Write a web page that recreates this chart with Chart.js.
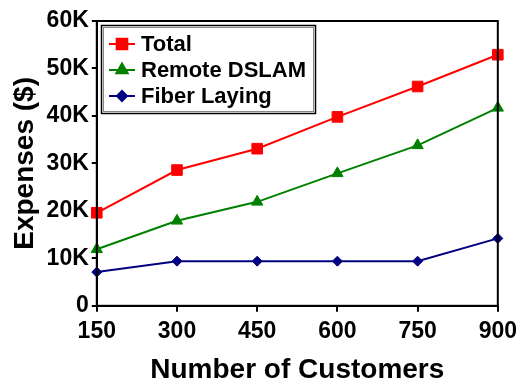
<!DOCTYPE html>
<html>
<head>
<meta charset="utf-8">
<script src="https://cdn.jsdelivr.net/npm/chart.js@4"></script>
<style>
  body { margin: 0; background: #fff; }
  canvas { display: block; }
</style>
</head>
<body>
<canvas id="grafico" width="520" height="390"></canvas>
<script>
const clientes = ['150', '300', '450', '600', '750', '900'];
const total = [19600, 28600, 33100, 39800, 46200, 52900];
const remoteDslam = [11900, 17900, 21900, 27900, 33800, 41700];
const fiberLaying = [7100, 9400, 9400, 9400, 9400, 14200];
const yTicks = [0, 10000, 20000, 30000, 40000, 50000, 60000];

const fuente = "'Liberation Sans', Arial, sans-serif";

// marco alrededor del area del grafico
const marco = {
    id: 'marco',
    afterDraw(chart) {
        const a = chart.chartArea;
        const ctx = chart.ctx;
        ctx.save();
        ctx.strokeStyle = '#000';
        ctx.lineWidth = 2;
        ctx.strokeRect(a.left, a.top, a.right - a.left, a.bottom - a.top);
        ctx.restore();
    }
};

// leyenda dibujada a mano, dentro del area
const leyenda = {
    id: 'leyenda',
    afterDraw(chart) {
        const ctx = chart.ctx;
        const x = 101, y = 25, w = 214, h = 88;
        ctx.save();
        ctx.fillStyle = '#fff';
        ctx.fillRect(x, y, w, h);
        ctx.strokeStyle = '#000';
        ctx.lineWidth = 1.5;
        ctx.strokeRect(x + 0.5, y + 0.5, w, h);
        ctx.strokeStyle = '#888';
        ctx.lineWidth = 1;
        ctx.strokeRect(x + 2.5, y + 2.5, w - 4, h - 4);
        ctx.font = 'bold 22px ' + fuente;
        ctx.textBaseline = 'middle';
        chart.data.datasets.forEach((ds, i) => {
            const cy = 44 + i * 26;
            ctx.strokeStyle = ds.borderColor;
            ctx.lineWidth = 2;
            ctx.beginPath();
            ctx.moveTo(109, cy);
            ctx.lineTo(135, cy);
            ctx.stroke();
            Chart.helpers.drawPoint(ctx, {
                pointStyle: ds.pointStyle,
                radius: ds.pointRadius,
                borderWidth: 1
            }, 122, cy);
            ctx.fillStyle = ds.backgroundColor;
            ctx.strokeStyle = ds.borderColor;
            ctx.fill();
            ctx.fillStyle = '#000';
            ctx.fillText(ds.label, 141, cy + 1);
        });
        ctx.restore();
    }
};

const serie = (label, data, color, estilo, radio) => ({
    label: label,
    data: data,
    borderColor: color,
    backgroundColor: color,
    borderWidth: 2,
    pointStyle: estilo,
    pointRadius: radio,
    pointHoverRadius: radio,
    pointBorderWidth: 1,
    tension: 0
});

new Chart(document.getElementById('grafico'), {
    type: 'line',
    data: {
        labels: clientes,
        datasets: [
            serie('Total', total, '#ff0000', 'rect', 7.5),
            serie('Remote DSLAM', remoteDslam, '#008000', 'triangle', 6.5),
            serie('Fiber Laying', fiberLaying, '#000080', 'rectRot', 5)
        ]
    },
    options: {
        responsive: false,
        animation: false,
        layout: { padding: { top: 21, right: 0, left: 8, bottom: 3 } },
        plugins: {
            legend: { display: false },
            tooltip: { enabled: false }
        },
        scales: {
            x: {
                offset: false,
                afterFit: (s) => { s.paddingRight = Math.max(s.paddingRight - 3, 0); },
                grid: { drawOnChartArea: false, tickLength: 6, color: '#000', lineWidth: 2 },
                border: { color: '#000', width: 2 },
                ticks: { color: '#000', font: { family: fuente, size: 23, weight: 'bold' }, padding: 6, maxRotation: 0 },
                title: { display: true, text: 'Number of Customers', color: '#000', font: { family: fuente, size: 28, weight: 'bold' }, padding: { top: 2, bottom: 0 } }
            },
            y: {
                min: 0,
                max: 60000,
                afterBuildTicks: (axis) => { axis.ticks = yTicks.map(v => ({ value: v })); },
                grid: { drawOnChartArea: false, tickLength: 5, color: '#000', lineWidth: 2 },
                border: { color: '#000', width: 2 },
                ticks: {
                    color: '#000',
                    font: { family: fuente, size: 23, weight: 'bold' },
                    padding: 3,
                    callback: (v) => v === 0 ? '0' : (v / 1000) + 'K'
                },
                title: { display: true, text: 'Expenses ($)', color: '#000', font: { family: fuente, size: 28, weight: 'bold' }, padding: { top: 0, bottom: 2 } }
            }
        }
    },
    plugins: [marco, leyenda]
});
</script>
</body>
</html>
